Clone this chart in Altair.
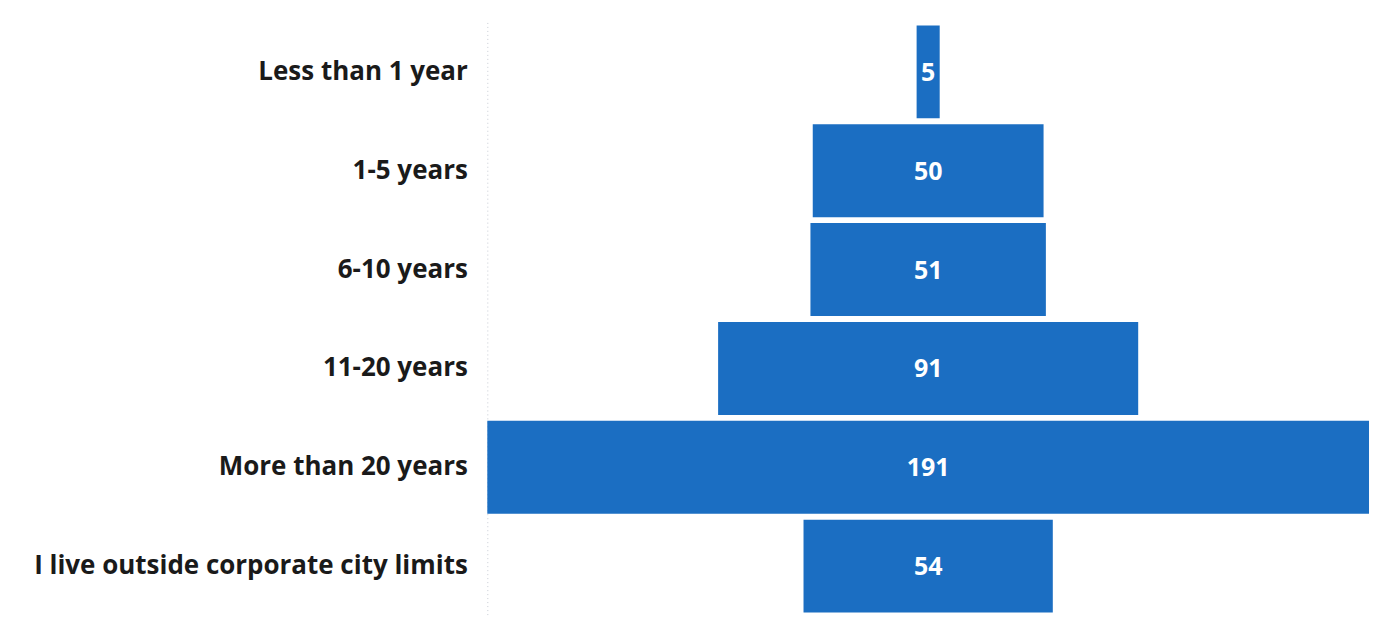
import altair as alt
import pandas as pd

categories = ["Less than 1 year", "1-5 years", "6-10 years", "11-20 years",
              "More than 20 years", "I live outside corporate city limits"]
values = [5, 50, 51, 91, 191, 54]

df = pd.DataFrame({"category": categories, "value": values})

base = alt.Chart(df).transform_calculate(
    lo="-datum.value/2", hi="datum.value/2", mid="0"
)

y = alt.Y("category:N", sort=categories, title=None,
          scale=alt.Scale(paddingInner=0.06, paddingOuter=0.03),
          axis=alt.Axis(labelFontSize=26, labelFont="Open Sans", labelFontWeight="bold",
                        labelColor="#1a1a1a", ticks=False, labelPadding=20,
                        domainColor="#c8ccd4", domainDash=[1, 3], domainWidth=1,
                        labelLimit=470))

bars = base.mark_bar(color="#1b6ec2").encode(
    y=y,
    x=alt.X("lo:Q", scale=alt.Scale(domain=[-95.5, 95.5], nice=False), axis=None),
    x2="hi:Q",
)

labels = base.mark_text(color="white", fontSize=25, font="Open Sans",
                        fontWeight="bold", dy=1).encode(
    y=alt.Y("category:N", sort=categories),
    x=alt.X("mid:Q"),
    text="value:Q",
)

chart = (bars + labels).properties(
    width=883, height=594,
    autosize=alt.AutoSizeParams(type="none"),
    padding={"left": 480, "top": 14, "right": 10, "bottom": 10},
).configure_view(stroke=None)

chart.save("out.html", embed_options={"renderer": "svg", "actions": False})
